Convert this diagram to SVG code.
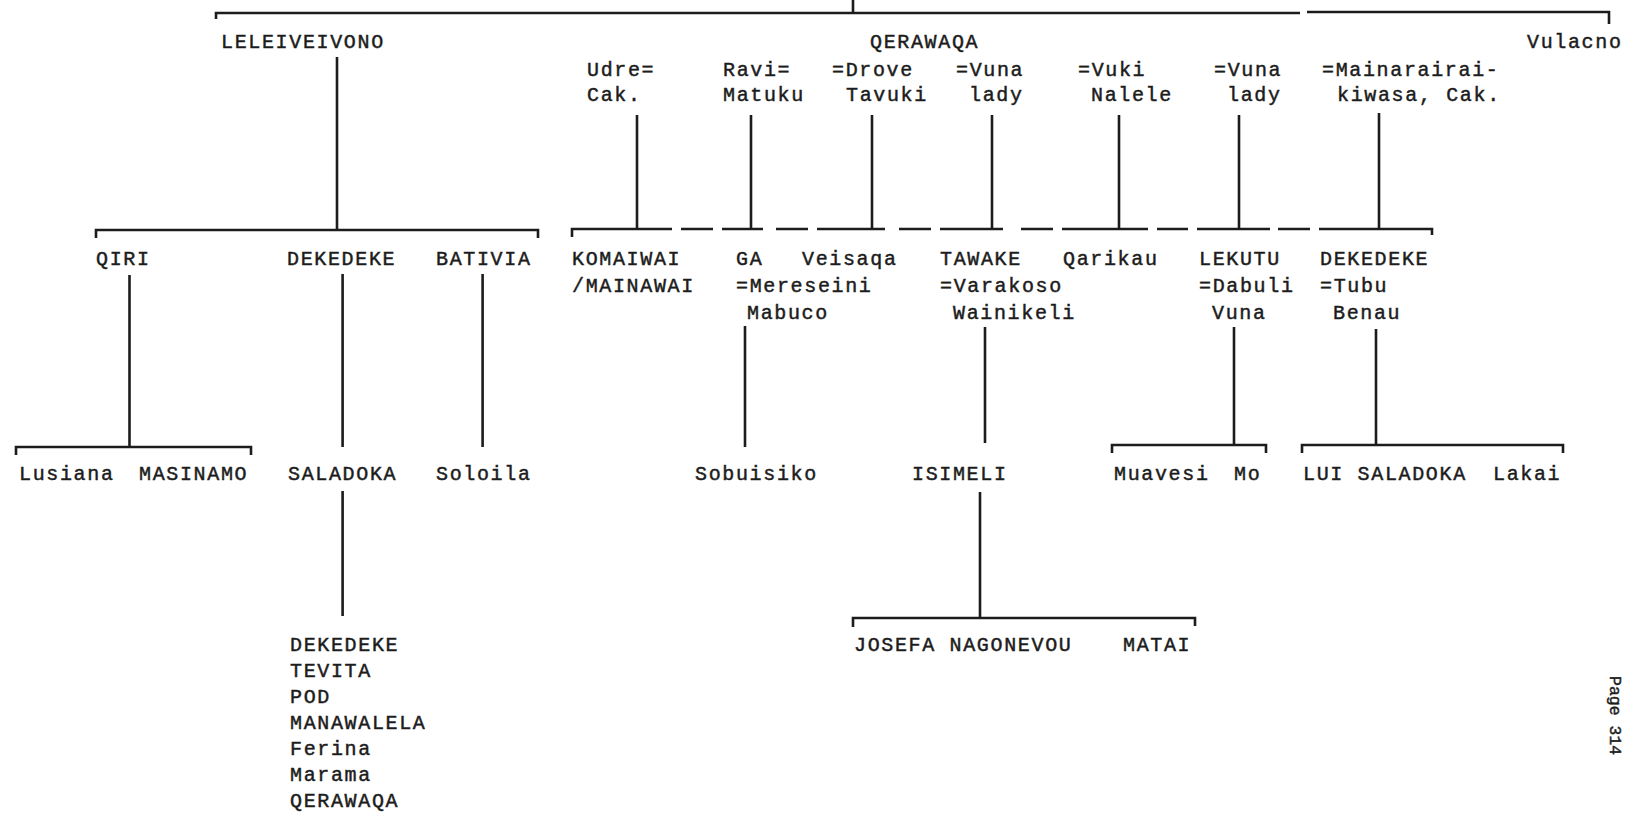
<svg xmlns="http://www.w3.org/2000/svg" width="1638" height="824" viewBox="0 0 1638 824">
<style>
text{font-family:"Liberation Mono","Courier New",monospace;font-size:20px;letter-spacing:1.65px;fill:#1c1c1c;stroke:#1c1c1c;stroke-width:0.45}
.ln{fill:none;stroke:#1c1c1c;stroke-width:2.6}
.pg{font-size:16.5px;letter-spacing:0px}
</style>
<rect width="1638" height="824" fill="#ffffff"/>
<g id="connectors" class="ln">
<path d="M853,0 V13 M216,19 V13 H1300 M1307,12 H1609 V24"/>
<path d="M337,57 V230 M96,238 V230 H538 V238"/>
<path d="M637,115 V229 M751,115 V229 M872,115 V229 M992,115 V229 M1119,115 V229 M1239,115 V229 M1379,113 V229"/>
<path d="M572,237 V229 H672 M681,229 H713 M722,229 H763 M776,229 H808 M817,229 H885 M899,229 H931 M940,229 H1003 M1021,229 H1053 M1062,229 H1148 M1157,229 H1188 M1197,229 H1270 M1278,229 H1310 M1319,229 H1432 V235"/>
<path d="M129.5,275 V447 M342.6,274 V447 M482.6,274 V447 M745,326 V447 M985,327 V443 M1234,327 V444 M1376,329 V445"/>
<path d="M16,455 V447 H251 V455"/>
<path d="M1112,453 V445 H1266 V453"/>
<path d="M1302,453 V445 H1563 V453"/>
<path d="M342.6,491 V616 M980,492 V618"/>
<path d="M853,627 V618 H1195 V626"/>
</g>
<g id="leleiveivono"><text x="221" y="48">LELEIVEIVONO</text></g>
<g id="qerawaqa"><text x="870" y="48">QERAWAQA</text></g>
<g id="vulacno"><text x="1527" y="48">Vulacno</text></g>
<g id="udre"><text x="587" y="76">Udre=</text><text x="587" y="101">Cak.</text></g>
<g id="ravi"><text x="723" y="76">Ravi=</text><text x="723" y="101">Matuku</text></g>
<g id="drove"><text x="832" y="76">=Drove</text><text x="846" y="101">Tavuki</text></g>
<g id="vuna1"><text x="956" y="76">=Vuna</text><text x="969" y="101">lady</text></g>
<g id="vuki"><text x="1078" y="76">=Vuki</text><text x="1091" y="101">Nalele</text></g>
<g id="vuna2"><text x="1214" y="76">=Vuna</text><text x="1227" y="101">lady</text></g>
<g id="mainarairai"><text x="1322" y="76">=Mainarairai-</text><text x="1337" y="101">kiwasa, Cak.</text></g>
<g id="qiri"><text x="96" y="265">QIRI</text></g>
<g id="dekedeke1"><text x="287" y="265">DEKEDEKE</text></g>
<g id="bativia"><text x="436" y="265">BATIVIA</text></g>
<g id="komaiwai"><text x="572" y="265">KOMAIWAI</text><text x="572" y="292">/MAINAWAI</text></g>
<g id="ga"><text x="736" y="265">GA</text><text x="736" y="292">=Mereseini</text><text x="747" y="319">Mabuco</text></g>
<g id="veisaqa"><text x="802" y="265">Veisaqa</text></g>
<g id="tawake"><text x="940" y="265">TAWAKE</text><text x="940" y="292">=Varakoso</text><text x="953" y="319">Wainikeli</text></g>
<g id="qarikau"><text x="1063" y="265">Qarikau</text></g>
<g id="lekutu"><text x="1199" y="265">LEKUTU</text><text x="1199" y="292">=Dabuli</text><text x="1212" y="319">Vuna</text></g>
<g id="dekedeke2"><text x="1320" y="265">DEKEDEKE</text><text x="1320" y="292">=Tubu</text><text x="1333" y="319">Benau</text></g>
<g id="lusiana"><text x="19" y="480">Lusiana</text></g>
<g id="masinamo"><text x="139" y="480">MASINAMO</text></g>
<g id="saladoka"><text x="288" y="480">SALADOKA</text></g>
<g id="soloila"><text x="436" y="480">Soloila</text></g>
<g id="sobuisiko"><text x="695" y="480">Sobuisiko</text></g>
<g id="isimeli"><text x="912" y="480">ISIMELI</text></g>
<g id="muavesi"><text x="1114" y="480">Muavesi</text></g>
<g id="mo"><text x="1234" y="480">Mo</text></g>
<g id="lui-saladoka"><text x="1303" y="480">LUI SALADOKA</text></g>
<g id="lakai"><text x="1493" y="480">Lakai</text></g>
<g id="dekedeke-tevita"><text x="290" y="651">DEKEDEKE</text><text x="290" y="677">TEVITA</text><text x="290" y="703">POD</text><text x="290" y="729">MANAWALELA</text><text x="290" y="755">Ferina</text><text x="290" y="781">Marama</text><text x="290" y="807">QERAWAQA</text></g>
<g id="josefa"><text x="854" y="651">JOSEFA NAGONEVOU</text></g>
<g id="matai"><text x="1123" y="651">MATAI</text></g>
<g id="page"><text class="pg" transform="translate(1610,676) rotate(90)">Page 314</text></g>
</svg>
